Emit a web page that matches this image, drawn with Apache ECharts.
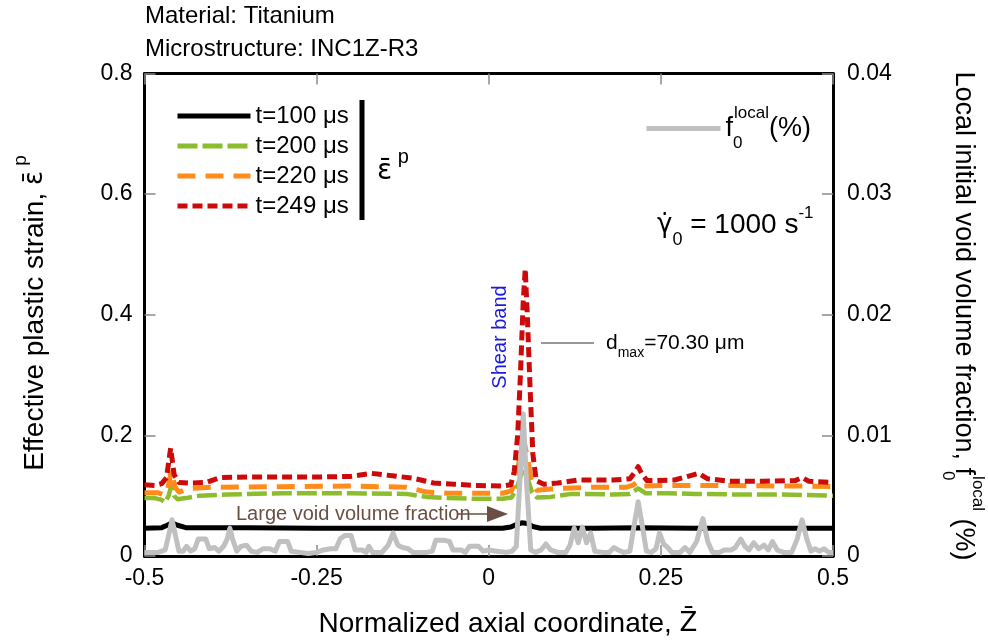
<!DOCTYPE html>
<html>
<head>
<meta charset="utf-8">
<script src="https://cdn.jsdelivr.net/npm/echarts@6/dist/echarts.min.js"></script>
<style>
html, body { margin: 0; padding: 0; background: #fff; }
#chart { width: 988px; height: 640px; }
</style>
</head>
<body>
<div id="chart"></div>
<script>
// Effective plastic strain profiles along the normalized axial coordinate,
// with the local initial void volume fraction on the secondary axis.

// Strain at t = 100 us  [z, strain]
const strain100 = [
  [-0.5, 0.046], [-0.475, 0.047], [-0.467, 0.051], [-0.460, 0.055], [-0.452, 0.051],
  [-0.44, 0.047], [-0.35, 0.047], [-0.25, 0.046], [-0.15, 0.046], [-0.05, 0.046],
  [0.02, 0.046], [0.032, 0.048], [0.040, 0.052], [0.048, 0.055], [0.056, 0.054],
  [0.064, 0.049], [0.075, 0.046], [0.15, 0.046], [0.215, 0.047], [0.3, 0.046],
  [0.4, 0.046], [0.5, 0.046]
];

// Strain at t = 200 us
const strain200 = [
  [-0.5, 0.096], [-0.485, 0.096], [-0.475, 0.093], [-0.470, 0.089], [-0.465, 0.100],
  [-0.461, 0.117], [-0.457, 0.100], [-0.452, 0.094], [-0.44, 0.096], [-0.42, 0.100],
  [-0.38, 0.102], [-0.3, 0.104], [-0.2, 0.104], [-0.12, 0.103], [-0.09, 0.098],
  [-0.06, 0.096], [-0.02, 0.095], [0.02, 0.095], [0.033, 0.097], [0.040, 0.110],
  [0.047, 0.135], [0.051, 0.143], [0.056, 0.130], [0.063, 0.105], [0.07, 0.097],
  [0.09, 0.098], [0.12, 0.103], [0.18, 0.102], [0.205, 0.103], [0.217, 0.112],
  [0.228, 0.104], [0.26, 0.104], [0.3, 0.103], [0.36, 0.102], [0.42, 0.102],
  [0.46, 0.101], [0.5, 0.100]
];

// Strain at t = 220 us
const strain220 = [
  [-0.5, 0.105], [-0.48, 0.105], [-0.472, 0.101], [-0.466, 0.112], [-0.461, 0.142],
  [-0.456, 0.115], [-0.450, 0.106], [-0.435, 0.112], [-0.40, 0.114], [-0.3, 0.115],
  [-0.2, 0.116], [-0.12, 0.114], [-0.09, 0.106], [-0.06, 0.104], [-0.02, 0.104],
  [0.02, 0.104], [0.033, 0.108], [0.040, 0.130], [0.046, 0.170], [0.051, 0.190],
  [0.056, 0.165], [0.062, 0.125], [0.07, 0.109], [0.10, 0.112], [0.15, 0.114],
  [0.2, 0.114], [0.210, 0.118], [0.217, 0.123], [0.225, 0.116], [0.26, 0.117],
  [0.35, 0.117], [0.42, 0.116], [0.46, 0.116], [0.5, 0.115]
];

// Strain at t = 249 us (shear band fully formed)
const strain249 = [
  [-0.5, 0.118], [-0.485, 0.117], [-0.475, 0.120], [-0.468, 0.130], [-0.462, 0.179],
  [-0.457, 0.135], [-0.450, 0.122], [-0.435, 0.121], [-0.41, 0.122], [-0.39, 0.130],
  [-0.35, 0.131], [-0.3, 0.131], [-0.25, 0.131], [-0.2, 0.132], [-0.17, 0.137],
  [-0.14, 0.133], [-0.11, 0.129], [-0.08, 0.121], [-0.05, 0.119], [-0.02, 0.117],
  [0.02, 0.116], [0.032, 0.118], [0.037, 0.140], [0.042, 0.200], [0.046, 0.300],
  [0.050, 0.420], [0.053, 0.476], [0.056, 0.400], [0.060, 0.280], [0.064, 0.170],
  [0.069, 0.125], [0.08, 0.119], [0.10, 0.121], [0.13, 0.126], [0.18, 0.126],
  [0.205, 0.128], [0.213, 0.140], [0.217, 0.148], [0.223, 0.135], [0.23, 0.125],
  [0.27, 0.126], [0.292, 0.133], [0.305, 0.137], [0.318, 0.128], [0.35, 0.124],
  [0.40, 0.124], [0.445, 0.125], [0.455, 0.130], [0.465, 0.124], [0.5, 0.122]
];

// Local initial void volume fraction (%)  [z, f0]
const voidFraction = [
  [-0.500, 0.0003], [-0.480, 0.0003], [-0.470, 0.0005], [-0.465, 0.0017], [-0.460, 0.0030],
  [-0.455, 0.0017], [-0.450, 0.0004], [-0.444, 0.0004], [-0.439, 0.0008], [-0.433, 0.0004],
  [-0.427, 0.0006], [-0.422, 0.0014], [-0.411, 0.0014], [-0.406, 0.0006], [-0.398, 0.0007],
  [-0.392, 0.0004], [-0.385, 0.0008], [-0.380, 0.0014], [-0.376, 0.0023], [-0.372, 0.0014],
  [-0.366, 0.0004], [-0.360, 0.0008], [-0.352, 0.0009], [-0.345, 0.0004], [-0.336, 0.0003],
  [-0.328, 0.0006], [-0.318, 0.0006], [-0.310, 0.0004], [-0.304, 0.0012], [-0.292, 0.0012],
  [-0.287, 0.0004], [-0.275, 0.0003], [-0.262, 0.0002], [-0.250, 0.0003], [-0.240, 0.0005],
  [-0.230, 0.0006], [-0.222, 0.0006], [-0.216, 0.0014], [-0.209, 0.0017], [-0.200, 0.0017],
  [-0.194, 0.0005], [-0.184, 0.0005], [-0.178, 0.0003], [-0.174, 0.0008], [-0.169, 0.0003],
  [-0.155, 0.0003], [-0.146, 0.0009], [-0.139, 0.0019], [-0.132, 0.0009], [-0.125, 0.0007],
  [-0.117, 0.0006], [-0.110, 0.0003], [-0.090, 0.0003], [-0.082, 0.0004], [-0.077, 0.0013],
  [-0.064, 0.0013], [-0.057, 0.0012], [-0.052, 0.0005], [-0.040, 0.0005], [-0.034, 0.0003],
  [-0.028, 0.0008], [-0.015, 0.0008], [-0.008, 0.0004], [0.000, 0.0005], [0.012, 0.0004],
  [0.025, 0.0003], [0.034, 0.0004], [0.040, 0.0008], [0.045, 0.0060], [0.050, 0.0118],
  [0.055, 0.0060], [0.061, 0.0005], [0.068, 0.0003], [0.076, 0.0005], [0.083, 0.0010],
  [0.090, 0.0005], [0.100, 0.0003], [0.112, 0.0003], [0.118, 0.0009], [0.124, 0.0023],
  [0.130, 0.0011], [0.136, 0.0024], [0.142, 0.0011], [0.148, 0.0019], [0.154, 0.0004],
  [0.165, 0.0003], [0.175, 0.0003], [0.182, 0.0007], [0.188, 0.0005], [0.196, 0.0003],
  [0.205, 0.0004], [0.211, 0.0025], [0.217, 0.0045], [0.223, 0.0025], [0.229, 0.0004],
  [0.236, 0.0003], [0.243, 0.0006], [0.248, 0.0019], [0.254, 0.0010], [0.260, 0.0007],
  [0.266, 0.0003], [0.278, 0.0003], [0.285, 0.0007], [0.292, 0.0003], [0.302, 0.0012],
  [0.311, 0.0031], [0.318, 0.0012], [0.325, 0.0003], [0.335, 0.0003], [0.342, 0.0005],
  [0.352, 0.0005], [0.358, 0.0007], [0.366, 0.0014], [0.372, 0.0008], [0.378, 0.0005],
  [0.385, 0.0011], [0.392, 0.0006], [0.400, 0.0009], [0.406, 0.0005], [0.412, 0.0012],
  [0.419, 0.0005], [0.428, 0.0003], [0.440, 0.0003], [0.448, 0.0014], [0.455, 0.0030],
  [0.462, 0.0014], [0.468, 0.0004], [0.474, 0.0006], [0.480, 0.0004], [0.487, 0.0006],
  [0.494, 0.0003], [0.500, 0.0003]
];

const seriesNames = ['t=100 μs', 't=200 μs', 't=220 μs', 't=249 μs'];
const voidName = 'f0local';

const FONT = '"Liberation Sans", Arial, Helvetica, sans-serif';
const MARKFONT = '"DejaVu Sans", sans-serif';
const frame = { color: '#000', width: 3 };
const ticks = { show: true, inside: true, length: 11, lineStyle: { color: '#8a8a8a', width: 1.5 } };
const tickLabel = { fontSize: 23, color: '#000', fontFamily: FONT };

// shared rich styles for sub/superscripts
function richSet(size, subSize) {
  return {
    m:   { fontSize: size, fontFamily: FONT, color: '#000', lineHeight: size + 20 },
    g:   { fontSize: size - 2, fontFamily: MARKFONT, color: '#000', lineHeight: size + 20 },
    sup: { fontSize: subSize, fontFamily: FONT, color: '#000', lineHeight: subSize, verticalAlign: 'top' },
    sub: { fontSize: subSize, fontFamily: FONT, color: '#000', lineHeight: subSize, verticalAlign: 'bottom', width: 1 }
  };
}

function line(name, data, color, width, type, yIdx, z) {
  return {
    name: name, type: 'line', data: data, yAxisIndex: yIdx, symbol: 'none',
    smooth: false, z: z, animation: false,
    lineStyle: { color: color, width: width, type: type, cap: 'butt', join: 'round' },
    itemStyle: { color: color }
  };
}

const chart = echarts.init(document.getElementById('chart'), null, { renderer: 'canvas' });

chart.setOption({
  animation: false,
  backgroundColor: '#fff',
  grid: { left: 144.5, right: 155, top: 73.5, bottom: 84 },
  xAxis: [
    { type: 'value', min: -0.5, max: 0.5, interval: 0.25, position: 'bottom',
      axisLine: { show: true, onZero: false, lineStyle: frame }, axisTick: ticks,
      splitLine: { show: false }, axisLabel: Object.assign({ margin: 11 }, tickLabel) },
    { type: 'value', min: -0.5, max: 0.5, interval: 0.25, position: 'top',
      axisLine: { show: true, onZero: false, lineStyle: frame }, axisTick: ticks,
      splitLine: { show: false }, axisLabel: { show: false } }
  ],
  yAxis: [
    { type: 'value', min: 0, max: 0.8, interval: 0.2, position: 'left',
      axisLine: { show: true, onZero: false, lineStyle: frame }, axisTick: ticks,
      splitLine: { show: false }, axisLabel: Object.assign({ margin: 12 }, tickLabel) },
    { type: 'value', min: 0, max: 0.04, interval: 0.01, position: 'right',
      axisLine: { show: true, onZero: false, lineStyle: frame }, axisTick: ticks,
      splitLine: { show: false }, axisLabel: Object.assign({ margin: 14 }, tickLabel) }
  ],
  legend: [
    { data: seriesNames, orient: 'vertical', left: 175, top: 101, padding: 0,
      itemWidth: 73, itemHeight: 20, itemGap: 0, selectedMode: false,
      itemStyle: { opacity: 0 }, lineStyle: { width: 5 },
      textStyle: { fontSize: 24, fontFamily: FONT, color: '#000', lineHeight: 30 } },
    { data: [voidName], orient: 'vertical', left: 644, top: 105, padding: 0,
      itemWidth: 74, itemHeight: 20, selectedMode: false,
      itemStyle: { opacity: 0 }, lineStyle: { width: 5 },
      formatter: function () { return '{m|f}{sub|0}{sup|local}{m|(%)}'; },
      textStyle: { rich: richSet(27, 17) } }
  ],
  series: [
    line(seriesNames[0], strain100, '#000000', 5, 'solid', 0, 2),
    line(seriesNames[1], strain200, '#8cbd2e', 4.5, [20, 5], 0, 3),
    line(seriesNames[2], strain220, '#ff8c1a', 5, [18, 10], 0, 4),
    line(voidName, voidFraction, '#c0c0c0', 5, 'solid', 1, 5),
    line(seriesNames[3], strain249, '#cc0a0a', 5, [10, 5], 0, 6)
  ],
  graphic: [
    { type: 'text', left: 145, top: 4, silent: true,
      style: { text: 'Material: Titanium', font: '24px ' + FONT, fill: '#000' } },
    { type: 'text', left: 145, top: 37, silent: true,
      style: { text: 'Microstructure: INC1Z-R3', font: '24px ' + FONT, fill: '#000' } },
    // bracket for the strain curves in the legend
    { type: 'line', silent: true, shape: { x1: 362, y1: 100, x2: 362, y2: 220 },
      style: { stroke: '#000', lineWidth: 5 } },
    { type: 'text', x: 377, y: 172, silent: true,
      style: { text: '{g|ε̄}{sup| p}', rich: richSet(30, 20), align: 'left', verticalAlign: 'middle' } },
    // strain-rate label
    { type: 'text', x: 657, y: 225, silent: true,
      style: { text: '{g|γ̇}{sub|0}{m| = 1000 s}{sup|-1}', rich: {
          m:   { fontSize: 28, fontFamily: FONT, color: '#000', lineHeight: 48 },
          g:   { fontSize: 26, fontFamily: MARKFONT, color: '#000', lineHeight: 48 },
          sup: { fontSize: 17, fontFamily: FONT, color: '#000', lineHeight: 17, verticalAlign: 'top', padding: [4, 0, 0, 0] },
          sub: { fontSize: 18, fontFamily: FONT, color: '#000', lineHeight: 18, verticalAlign: 'bottom' }
        }, align: 'left', verticalAlign: 'middle' } },
    // shear band annotation
    { type: 'text', x: 500, y: 337, rotation: Math.PI / 2, silent: true,
      style: { text: 'Shear band', font: '20px ' + FONT, fill: '#1a1ae0', align: 'center', verticalAlign: 'middle' } },
    { type: 'line', silent: true, shape: { x1: 541, y1: 343, x2: 594, y2: 343 },
      style: { stroke: '#333', lineWidth: 1 } },
    { type: 'text', x: 606, y: 343, silent: true,
      style: { text: '{m|d}{sub|max}{m|=70.30 μm}', rich: {
          m:   { fontSize: 21, fontFamily: FONT, color: '#cc1111', lineHeight: 34 },
          sub: { fontSize: 14, fontFamily: FONT, color: '#cc1111', lineHeight: 14, verticalAlign: 'bottom' }
        }, align: 'left', verticalAlign: 'middle' } },
    // large void annotation
    { type: 'text', x: 236, y: 514, silent: true,
      style: { text: 'Large void volume fraction', font: '20px ' + FONT, fill: '#6b4f45', align: 'left', verticalAlign: 'middle' } },
    { type: 'line', silent: true, shape: { x1: 458, y1: 514, x2: 490, y2: 514 },
      style: { stroke: '#6b4f45', lineWidth: 1.5 } },
    { type: 'polygon', silent: true, shape: { points: [[487, 506], [508, 514], [487, 522]] },
      style: { fill: '#6b4f45' } },
    // axis titles
    { type: 'text', x: 35, y: 313, rotation: Math.PI / 2, silent: true,
      style: { text: '{m|Effective plastic strain, }{g|ε̄}{sup| p}', rich: richSet(28, 19), align: 'center', verticalAlign: 'middle' } },
    { type: 'text', x: 963, y: 316, rotation: -Math.PI / 2, silent: true,
      style: { text: '{m|Local initial void volume fraction, f}{sub|0}{sup|local}{m| (%)}', rich: richSet(27, 17), align: 'center', verticalAlign: 'middle' } },
    { type: 'text', x: 508, y: 624, silent: true,
      style: { text: '{m|Normalized axial coordinate, }{g|Z̄}', rich: richSet(28, 17), align: 'center', verticalAlign: 'middle' } }
  ]
});
</script>
</body>
</html>
